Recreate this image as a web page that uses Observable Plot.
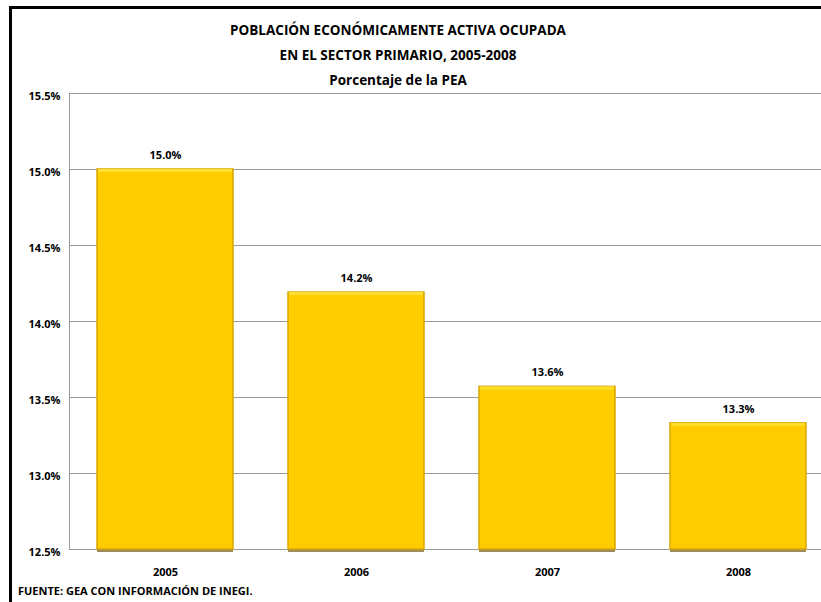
<!DOCTYPE html>
<html>
<head>
<meta charset="utf-8">
<script src="https://cdn.jsdelivr.net/npm/d3@7"></script>
<script src="https://cdn.jsdelivr.net/npm/@observablehq/plot@0.6"></script>
<style>
  html, body { margin: 0; padding: 0; background: #fff; overflow: hidden; }
  #wrap { position: relative; width: 821px; height: 602px; overflow: hidden; }
  #chart { position: absolute; left: 0; top: 0; width: 833px; height: 602px; }
  #chart svg { max-width: none !important; display: block; }
  .t { position: absolute; left: 10px; width: 776px; text-align: center; font-family: "Open Sans", sans-serif; font-weight: bold; font-size: 13.5px; color: #000; }
  #border { position: absolute; left: 9px; top: 6px; width: 830px; height: 620px; border-top: 3px solid #000; border-left: 3px solid #000; box-sizing: border-box; pointer-events: none; }
  #src { position: absolute; left: 18px; top: 583px; font-family: "Open Sans", sans-serif; font-weight: bold; font-size: 11px; }
</style>
</head>
<body>
<div id="wrap">
  <div id="chart"></div>
  <div id="border"></div>
  <div class="t" style="top:21px">POBLACIÓN ECONÓMICAMENTE ACTIVA OCUPADA</div>
  <div class="t" style="top:46px">EN EL SECTOR PRIMARIO, 2005-2008</div>
  <div class="t" style="top:71px">Porcentaje de la PEA</div>
  <div id="src">FUENTE: GEA CON INFORMACIÓN DE INEGI.</div>
</div>
<script>
const years = ["2005", "2006", "2007", "2008"];
const values = [15.0, 14.19, 13.57, 13.33];
const labels = ["15.0%", "14.2%", "13.6%", "13.3%"];
const yTicks = [12.5, 13.0, 13.5, 14.0, 14.5, 15.0, 15.5];

const data = years.map((y, i) => ({year: y, value: values[i], label: labels[i]}));
const base = 12.5;
const font = "'Open Sans', sans-serif";

const chart = Plot.plot({
  width: 833,
  height: 602,
  marginTop: 93,
  marginBottom: 53,
  marginLeft: 69,
  marginRight: 0,
  style: {fontFamily: font, fontSize: "11px", fontWeight: "bold", color: "#000", background: "transparent", maxWidth: "none"},
  x: {domain: years, paddingInner: 0.288, paddingOuter: 0.144, label: null},
  y: {domain: [12.5, 15.5], label: null},
  marks: [
    Plot.gridY(yTicks, {stroke: "#999", strokeOpacity: 1}),
    Plot.frame({anchor: "left", stroke: "#999"}),
    Plot.axisY(yTicks, {tickSize: 0, tickPadding: 9, tickFormat: d => d.toFixed(1) + "%", dy: 3, fontWeight: "bold", fill: "#000"}),
    Plot.axisX({tickSize: 0, tickPadding: 19, fontWeight: "bold", fill: "#000"}),
    Plot.barY(data, {x: "year", y1: base, y2: base, insetBottom: -3, fill: "#A08C5A"}),
    Plot.barY(data, {x: "year", y1: base, y2: "value", fill: "#FFCC00", stroke: "#D9A600", strokeWidth: 1.5}),
    Plot.barY(data, {x: "year", y1: "value", y2: "value", insetBottom: -3, insetLeft: 1, insetRight: 1, fill: "#FFDF2E"}),
    Plot.text(data, {x: "year", y: "value", text: "label", dy: -14, fontWeight: "bold", fill: "#000"})
  ]
});
document.getElementById("chart").appendChild(chart);
</script>
</body>
</html>
